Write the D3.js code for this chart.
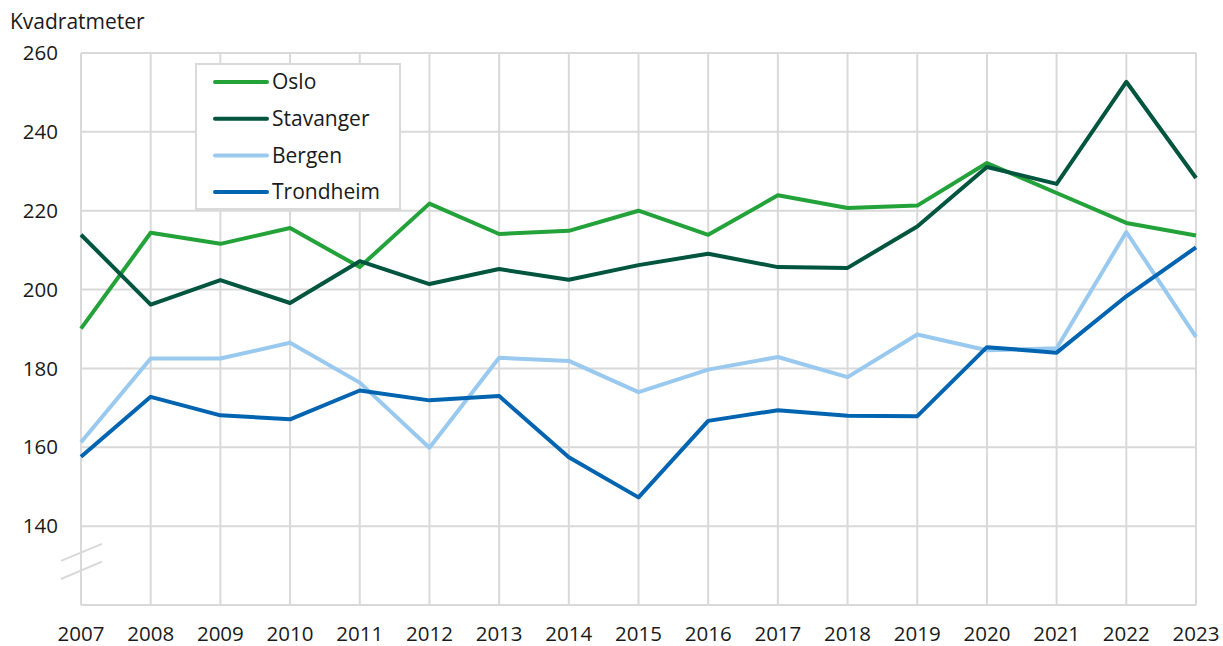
<!DOCTYPE html>
<html><head><meta charset="utf-8">
<script src="https://cdn.jsdelivr.net/npm/d3@7"></script>
<style>body{margin:0;background:#fff}svg{display:block;font-family:"Open Sans",sans-serif}</style>
</head><body>
<svg id="c" width="1223" height="646"></svg>
<script>
const years = [2007,2008,2009,2010,2011,2012,2013,2014,2015,2016,2017,2018,2019,2020,2021,2022,2023];
const oslo = [190.1,214.4,211.6,215.6,205.7,221.8,214.1,214.9,220.0,213.9,223.9,220.7,221.3,232.1,224.5,216.9,213.7];
const stavanger = [213.9,196.2,202.4,196.6,207.2,201.4,205.2,202.5,206.2,209.1,205.7,205.5,216.0,231.1,226.8,252.7,228.3];
const bergen = [161.3,182.5,182.5,186.5,176.4,159.9,182.7,181.9,174.0,179.7,182.9,177.8,188.6,184.6,185.1,214.6,188.0];
const trondheim = [157.6,172.8,168.1,167.1,174.4,171.9,173.0,157.5,147.3,166.7,169.4,168.0,167.9,185.4,184.0,198.3,210.7];
const yTicks = [140,160,180,200,220,240,260];
const seriesNames = ["Oslo","Stavanger","Bergen","Trondheim"];
const seriesColors = ["#23a23a","#00553f","#99c9ee","#0064b0"];
const yTitle = "Kvadratmeter";

const series = [oslo,stavanger,bergen,trondheim].map((v,i)=>({name:seriesNames[i],color:seriesColors[i],values:v}));
const svg = d3.select("#c");
const x = d3.scaleLinear().domain([2007,2023]).range([81,1196]);
const y = d3.scaleLinear().domain([120,260]).range([605,53]);
const grid = "#d9d9d9";

// vertical grid
svg.append("g").selectAll("line").data(years).join("line")
  .attr("x1",d=>x(d)).attr("x2",d=>x(d)).attr("y1",y(260)).attr("y2",y(120))
  .attr("stroke",grid).attr("stroke-width",2);
// horizontal grid
svg.append("g").selectAll("line").data(yTicks.concat([120])).join("line")
  .attr("x1",x(2007)).attr("x2",x(2023)).attr("y1",d=>y(d)).attr("y2",d=>y(d))
  .attr("stroke",grid).attr("stroke-width",2);

// axis break marks
const bk = svg.append("g").attr("stroke",grid).attr("stroke-width",2);
bk.append("line").attr("x1",61).attr("y1",y(131.2)).attr("x2",102).attr("y2",y(135.5));
bk.append("line").attr("x1",61).attr("y1",y(126.6)).attr("x2",102).attr("y2",y(131));

// y tick labels
svg.append("g").selectAll("text").data(yTicks).join("text")
  .attr("x",58).attr("y",d=>y(d)).attr("dy","0.35em").attr("text-anchor","end")
  .attr("font-size",20.5).attr("fill","#1a1a1a").text(d=>d);
// x tick labels
svg.append("g").selectAll("text").data(years).join("text")
  .attr("x",d=>x(d)).attr("y",640.5).attr("text-anchor","middle")
  .attr("font-size",20.5).attr("fill","#1a1a1a").text(d=>d);
// y title
svg.append("text").attr("x",10).attr("y",29).attr("font-size",21).attr("fill","#1a1a1a").text(yTitle);

// lines
const line = d3.line().x((d,i)=>x(years[i])).y(d=>y(d));
svg.append("g").selectAll("path").data(series).join("path")
  .attr("d",d=>line(d.values)).attr("fill","none").attr("stroke",d=>d.color)
  .attr("stroke-width",4).attr("stroke-linejoin","round");

// legend
const lg = svg.append("g");
lg.append("rect").attr("x",196).attr("y",64).attr("width",204).attr("height",145)
  .attr("fill","#fff").attr("stroke",grid).attr("stroke-width",2);
const rows = lg.selectAll("g.r").data(series).join("g").attr("class","r")
  .attr("transform",(d,i)=>`translate(0,${82+i*36.7})`);
rows.append("line").attr("x1",215).attr("x2",267).attr("stroke",d=>d.color)
  .attr("stroke-width",4).attr("stroke-linecap","round");
rows.append("text").attr("x",272).attr("dy","0.35em").attr("font-size",21)
  .attr("fill","#1a1a1a").text(d=>d.name);
</script>
</body></html>
